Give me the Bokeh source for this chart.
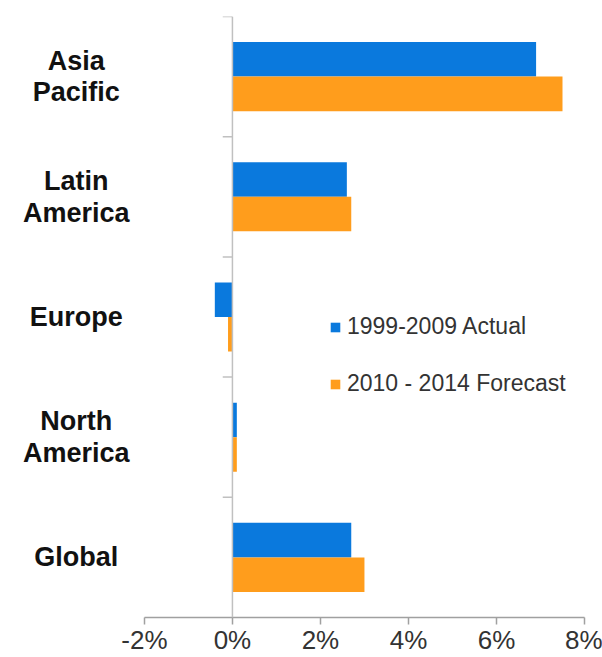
from bokeh.plotting import figure
from bokeh.models import ColumnDataSource, FactorRange, Range1d, FixedTicker, PrintfTickFormatter, Span
from bokeh.core.properties import value
from bokeh.transform import dodge
from bokeh.embed import file_html
from bokeh.resources import INLINE

regions = ["Asia Pacific", "Latin America", "Europe", "North America", "Global"]
labels = ["Asia\nPacific", "Latin\nAmerica", "Europe", "North\nAmerica", "Global"]
actual_1999_2009 = [6.9, 2.6, -0.4, 0.1, 2.7]
forecast_2010_2014 = [7.5, 2.7, -0.1, 0.1, 3.0]
x_ticks = [-2, 0, 2, 4, 6, 8]

BLUE = "#0A79DD"
ORANGE = "#FF9D1C"
FONT = "Liberation Sans"
LABEL_X = -3.55   # horizontal centre of the category labels (left of the axis)
X_MIN = -5.27     # frame extends left so the category labels can be drawn inside it

src = ColumnDataSource(dict(cat=regions, lab=labels, a=actual_1999_2009, f=forecast_2010_2014,
                            zero=[0] * len(regions), tk=[-0.22] * len(regions),
                            lx=[LABEL_X] * len(regions)))

p = figure(width=602, height=657, output_backend="svg", toolbar_location=None,
           y_range=FactorRange(*list(reversed(regions))), x_range=Range1d(X_MIN, 8),
           min_border_left=0, min_border_right=18, min_border_top=16, min_border_bottom=20)
p.outline_line_color = None
p.xgrid.visible = False
p.ygrid.visible = False
p.yaxis.visible = False

# zero line and category boundary ticks
p.add_layout(Span(location=0, dimension="height", line_color="#c0c0c0", line_width=1.5))
p.segment(x0="tk", x1="zero", y0=dodge("cat", 0.5, range=p.y_range), y1=dodge("cat", 0.5, range=p.y_range),
          source=src, line_color="#c0c0c0", line_width=1.5)

bh = 0.2875
p.hbar(y=dodge("cat", bh / 2, range=p.y_range), right="a", left=0, height=bh, source=src,
       color=BLUE, line_color=None, legend_label="1999-2009 Actual")
p.hbar(y=dodge("cat", -bh / 2, range=p.y_range), right="f", left=0, height=bh, source=src,
       color=ORANGE, line_color=None, legend_label="2010 - 2014 Forecast")

# category labels
p.text(x="lx", y="cat", text="lab", source=src, text_font=value(FONT), text_font_style="bold",
       text_font_size="27px", text_color="#111111", text_align="center", text_baseline="middle",
       text_line_height=1.05)

# x axis
xa = p.xaxis[0]
xa.ticker = FixedTicker(ticks=x_ticks)
xa.bounds = (-2, 8)
xa.formatter = PrintfTickFormatter(format="%d%%")
xa.axis_line_color = "#a0a0a0"
xa.axis_line_width = 1.5
xa.major_tick_line_color = "#a0a0a0"
xa.major_tick_line_width = 1.5
xa.major_tick_in = 0
xa.major_tick_out = 7
xa.minor_tick_line_color = None
xa.major_label_text_font = FONT
xa.major_label_text_font_size = "26px"
xa.major_label_text_color = "#333333"
xa.major_label_standoff = 0

lg = p.legend[0]
lg.location = (329, 220)
lg.border_line_color = None
lg.background_fill_alpha = 0
lg.padding = 0
lg.margin = 0
lg.spacing = 30
lg.glyph_width = 12
lg.glyph_height = 12
lg.label_text_font = FONT
lg.label_text_font_size = "23px"
lg.label_text_color = "#333333"
lg.label_standoff = 6

open("out.html", "w").write(file_html(p, INLINE))
